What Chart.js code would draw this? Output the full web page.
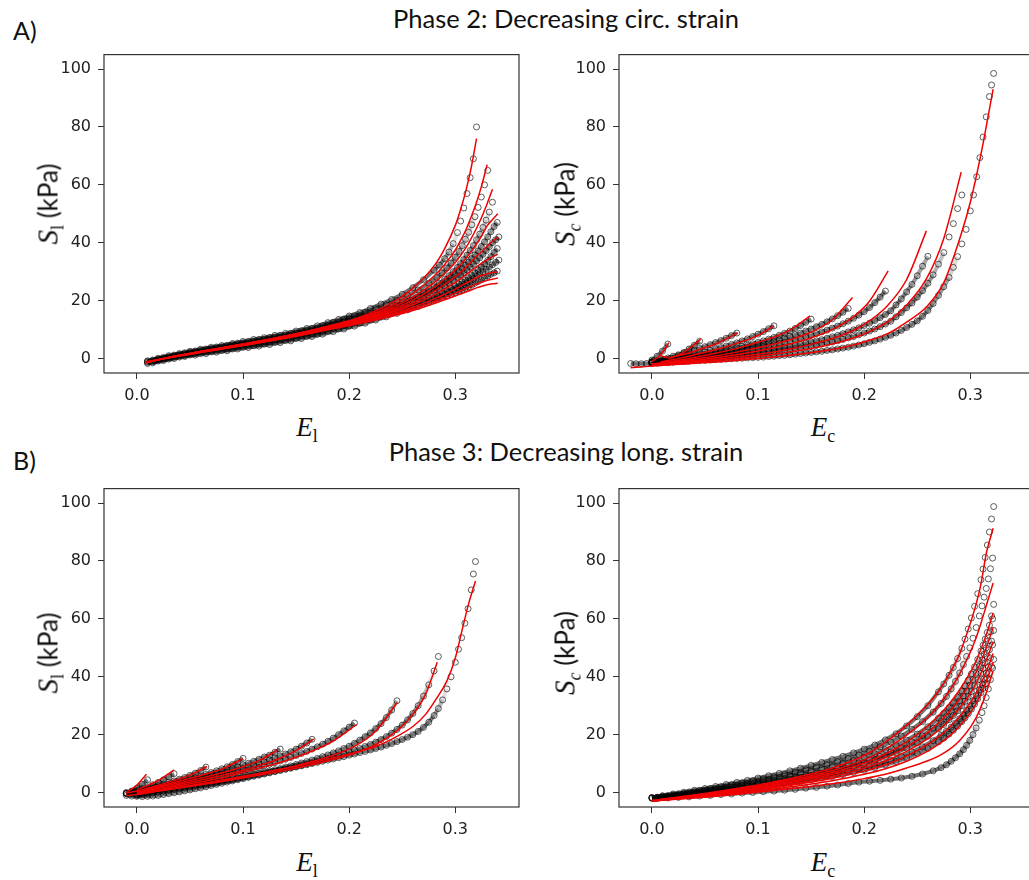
<!DOCTYPE html>
<html>
<head>
<meta charset="utf-8">
<title>Stress-strain fits, phase 2 and phase 3</title>
<script src="https://cdn.jsdelivr.net/npm/chart.js@4.4.1/dist/chart.umd.min.js"></script>
<style>
  html, body { margin: 0; padding: 0; background: #fff; }
  body { position: relative; width: 1029px; height: 880px; overflow: hidden; font-family: Lato, "Open Sans", sans-serif; color: #111; }
  canvas { position: absolute; }
  .t { position: absolute; white-space: nowrap; line-height: 1; }
  .panel { font-size: 25px; left: 13px; }
  .head { font-size: 25.5px; transform: translateX(-50%); }
  .xl { font-family: "Liberation Serif", serif; font-size: 27px; transform: translateX(-50%); }
  .xl sub { font-size: 18px; font-style: normal; vertical-align: -6px; line-height: 0; }
  .yl { font-size: 26px; transform: translate(-50%, -50%) rotate(-90deg); }
  .yl i { font-family: "Liberation Serif", serif; font-size: 29px; }
  .yl sub { font-family: "Liberation Serif", serif; font-size: 18px; vertical-align: -6px; line-height: 0; }
</style>
</head>
<body>
<canvas id="p2l" width="484" height="372" style="left:40px;top:38px"></canvas>
<canvas id="p2c" width="484" height="372" style="left:555px;top:38px"></canvas>
<canvas id="p3l" width="484" height="372" style="left:40px;top:472px"></canvas>
<canvas id="p3c" width="484" height="372" style="left:555px;top:472px"></canvas>

<div class="t panel" style="top:18px">A)</div>
<div class="t head" style="left:566px;top:6px">Phase 2: Decreasing circ. strain</div>
<div class="t panel" style="top:448px">B)</div>
<div class="t head" style="left:566px;top:439px">Phase 3: Decreasing long. strain</div>

<div class="t xl" style="left:307px;top:414px"><i>E</i><sub>l</sub></div>
<div class="t xl" style="left:823px;top:414px"><i>E</i><sub>c</sub></div>
<div class="t xl" style="left:307px;top:849px"><i>E</i><sub>l</sub></div>
<div class="t xl" style="left:823px;top:849px"><i>E</i><sub>c</sub></div>

<div class="t yl" style="left:48px;top:204px"><i>S</i><sub>l</sub> (kPa)</div>
<div class="t yl" style="left:565px;top:204px"><i>S</i><sub><i style="font-size:18px">c</i></sub> (kPa)</div>
<div class="t yl" style="left:48px;top:653px"><i>S</i><sub>l</sub> (kPa)</div>
<div class="t yl" style="left:565px;top:653px"><i>S</i><sub><i style="font-size:18px">c</i></sub> (kPa)</div>

<script>
// axes shared by all four panels
const xTicks = [0.0, 0.1, 0.2, 0.3];
const yTicks = [0, 20, 40, 60, 80, 100];
const xRange = [-0.031, 0.36];
const yRange = [-5, 105];

// ---- A) Phase 2, S_l vs E_l ----
const p2lGridA = [0.01,0.02,0.03,0.04,0.05,0.06,0.07,0.08,0.09,0.10,0.11,0.12,0.13,0.14,0.15,0.16,0.17,0.18,0.19,0.20,0.21,0.22,0.23,0.24,0.25,0.26,0.27,0.28,
  0.285,0.29,0.294,0.298,0.302,0.305,0.308,0.311,0.314,0.317,0.320,0.323,0.326,0.329,0.332,0.335,0.338,0.341];
const p2lGridB = [0.015,0.025,0.035,0.045,0.055,0.065,0.075,0.085,0.095,0.105,0.115,0.125,0.135,0.145,0.155,0.165,0.175,0.185,0.195,0.205,0.215,0.225,0.235,0.245,0.255,0.265,0.275,
  0.2825,0.2875,0.292,0.296,0.300,0.3035,0.3065,0.3095,0.3125,0.3155,0.3185,0.3215,0.3245,0.3275,0.3305,0.3335,0.3365,0.3395];
const p2lDotsA = [
  [-0.8,0.1,1.0,1.7,2.5,3.2,3.9,4.5,5.2,5.9,6.6,7.2,8.0,8.7,9.5,10.4,11.3,12.4,13.5,14.7,15.9,17.3,18.8,20.4,22.2,24.5,27.2,30.5,
   32.3,34.5,36.8,39.7,43.5,47.5,52.0,57.0,62.5,69.0,80.0],
  [-1.0,-0.2,0.6,1.4,2.1,2.8,3.4,4.0,4.7,5.3,5.9,6.6,7.3,8.0,8.8,9.6,10.4,11.5,12.5,13.7,14.7,15.7,16.8,18.0,19.4,21.0,22.8,24.8,
   26.0,27.4,28.6,30.0,31.5,32.8,34.2,35.7,37.3,39.0,41.0,43.0,45.3,47.8,50.6,54.0],
  [-1.3,-0.5,0.3,1.0,1.7,2.3,2.9,3.5,4.1,4.7,5.3,5.9,6.6,7.3,8.0,8.8,9.6,10.6,11.6,12.7,13.7,14.8,15.9,17.1,18.4,19.8,21.4,23.2,
   24.1,25.1,26.0,27.0,28.0,28.8,29.7,30.6,31.6,32.6,33.7,34.8,36.0,37.3,38.6,40.0,41.0,42.0],
  [-1.7,-0.9,-0.2,0.5,1.2,1.7,2.3,2.8,3.3,3.9,4.4,5.0,5.6,6.3,7.0,7.7,8.4,9.4,10.3,11.3,12.3,13.4,14.5,15.7,16.9,18.1,19.4,20.8,
   21.5,22.3,23.0,23.7,24.4,25.0,25.6,26.2,26.9,27.6,28.4,29.2,30.0,30.8,31.6,32.4,33.2,34.0]
];
const p2lDotsB = [
  [-0.5,0.4,1.2,2.0,2.6,3.3,4.0,4.6,5.3,5.9,6.6,7.3,8.0,8.7,9.6,10.4,11.4,12.5,13.6,14.7,15.9,17.2,18.6,20.1,21.8,23.7,26.0,
   28.0,29.6,31.3,33.0,35.0,37.0,39.0,41.2,43.6,46.2,49.0,52.2,55.8,60.0,65.0],
  [-0.8,0.0,0.9,1.6,2.2,2.8,3.5,4.1,4.7,5.3,5.9,6.6,7.3,8.0,8.8,9.6,10.5,11.6,12.6,13.6,14.7,15.8,17.0,18.3,19.7,21.3,23.1,
   24.6,25.7,26.8,27.9,29.0,30.1,31.1,32.2,33.3,34.5,35.8,37.2,38.7,40.3,42.0,43.8,45.6,47.0],
  [-1.1,-0.3,0.5,1.1,1.7,2.3,2.9,3.4,4.0,4.6,5.1,5.7,6.4,7.1,7.9,8.6,9.5,10.5,11.4,12.5,13.5,14.6,15.7,16.9,18.1,19.4,20.8,
   21.9,22.7,23.5,24.2,25.0,25.7,26.4,27.1,27.9,28.7,29.6,30.6,31.6,32.7,33.9,35.2,36.6,38.0],
  [-1.5,-0.7,0.0,0.7,1.2,1.7,2.2,2.7,3.3,3.8,4.3,4.8,5.5,6.1,6.9,7.6,8.4,9.3,10.2,11.2,12.2,13.3,14.4,15.6,16.8,18.0,19.3,
   20.3,21.0,21.6,22.2,22.8,23.3,23.8,24.3,24.8,25.4,26.0,26.6,27.2,27.8,28.5,29.1,29.6,30.2]
];
const p2lFitGrid = [0.008,0.03,0.06,0.10,0.14,0.18,0.21,0.24,0.26,0.28,0.29,0.30,0.305,0.31,0.315,0.32,0.325,0.33,0.335,0.34];
const p2lFits = [
  [-1.5,0.4,2.4,5.0,7.8,11.2,14.3,19.2,24.3,32.0,38.0,46.0,51.5,58.0,66.0,76.0],
  [-1.5,0.4,2.4,5.0,7.8,11.1,14.0,18.3,22.5,28.5,32.5,37.5,40.8,44.5,49.0,54.0,60.0,67.0],
  [-1.5,0.4,2.4,4.9,7.7,11.0,13.8,17.6,21.2,26.2,29.4,33.2,35.6,38.3,41.5,45.0,49.0,53.5,58.5],
  [-1.4,0.4,2.4,4.9,7.6,10.8,13.5,17.0,20.2,24.6,27.4,30.6,32.5,34.6,37.0,39.6,42.5,45.8,48.0,50.0],
  [-1.4,0.4,2.3,4.8,7.5,10.6,13.2,16.4,19.3,23.2,25.6,28.3,29.8,31.5,33.4,35.4,37.0,38.8,40.5,42.0],
  [-1.4,0.3,2.3,4.7,7.4,10.5,12.9,16.0,18.6,22.0,24.0,26.3,27.6,28.9,30.3,31.7,33.0,34.2,35.2,36.0],
  [-1.3,0.3,2.2,4.6,7.2,10.3,12.6,15.4,17.7,20.6,22.2,24.0,25.0,26.0,27.0,28.0,28.7,29.3,29.7,30.0],
  [-1.3,0.3,2.2,4.6,7.1,10.1,12.4,15.0,17.1,19.7,21.1,22.6,23.4,24.2,25.0,25.8,26.4,27.0,27.4,27.8],
  [-1.2,0.3,2.1,4.5,7.0,9.9,12.1,14.6,16.6,19.0,20.3,21.6,22.3,23.0,23.7,24.4,25.0,25.5,25.8,26.0]
];

// ---- A) Phase 2, S_c vs E_c ----
const p2cGrid = [-0.02,-0.015,-0.01,-0.005,0,0.005,0.01,0.015,0.02,0.025,0.03,0.035,0.04,0.045,0.05,0.055,0.06,0.065,0.07,0.075,
  0.08,0.085,0.09,0.095,0.1,0.105,0.11,0.115,0.12,0.125,0.13,0.135,0.14,0.145,0.15,0.155,0.16,0.165,0.17,0.175,
  0.18,0.185,0.19,0.195,0.2,0.205,0.21,0.215,0.22,0.225,0.23,0.235,0.24,0.245,0.25,0.255,0.26,0.265,0.27,0.275,0.28,
  0.284,0.288,0.292,0.296,0.3,0.303,0.306,0.309,0.312,0.315,0.318,0.32,0.322];
const p2cDots = [
  [null,null,null,null,-0.5,0.8,2.6,5.0],
  [null,null,null,null,-1.2,-1.0,-0.7,-0.4,0.0,1.0,2.1,3.3,4.6,6.0],
  [null,null,null,null,-1.0,-0.7,-0.3,0.2,0.8,1.3,1.8,2.3,2.9,3.5,4.1,4.8,5.5,6.2,7.0,7.9,8.8],
  [null,null,null,null,-1.2,-1.0,-0.7,-0.4,-0.1,0.3,0.7,1.1,1.5,1.9,2.3,2.8,3.3,3.8,4.3,4.9,5.4,6.1,6.8,7.6,8.4,9.3,10.3,11.3],
  [null,null,null,null,-1.3,-1.1,-0.9,-0.7,-0.4,-0.1,0.2,0.5,0.8,1.1,1.4,1.8,2.1,2.5,2.9,3.3,3.7,4.1,4.6,5.1,5.6,6.1,6.7,7.3,8.0,8.7,9.5,10.4,11.4,12.5,13.6],
  [null,null,null,null,-1.4,-1.2,-1.0,-0.8,-0.6,-0.4,-0.1,0.1,0.4,0.7,1.0,1.3,1.6,1.9,2.3,2.6,3.0,3.4,3.8,4.2,4.6,5.0,5.5,6.0,6.5,7.0,7.6,8.2,8.8,9.5,10.2,11.0,11.8,12.7,13.7,14.8,16.0,17.3],
  [null,null,null,null,-1.4,-1.3,-1.1,-0.9,-0.7,-0.5,-0.3,-0.1,0.1,0.4,0.6,0.9,1.1,1.4,1.7,2.0,2.3,2.6,3.0,3.3,3.7,4.0,4.4,4.8,5.2,5.6,6.1,6.5,7.0,7.5,8.0,8.6,9.2,9.8,10.5,11.2,12.0,12.9,13.9,15.0,16.2,17.6,19.3,21.2,23.3],
  [null,null,null,null,-1.5,-1.4,-1.3,-1.2,-1.0,-0.9,-0.7,-0.5,-0.3,-0.1,0.1,0.3,0.5,0.7,0.9,1.1,1.4,1.6,1.9,2.1,2.4,2.7,3.0,3.3,3.6,3.9,4.2,4.6,4.9,5.3,5.7,6.1,6.5,7.0,7.5,8.0,8.6,9.2,9.9,10.6,11.4,12.2,13.1,14.1,15.2,16.5,18.5,20.6,23.0,25.6,28.6,31.9,35.3],
  [null,null,null,null,-1.6,-1.5,-1.4,-1.3,-1.2,-1.0,-0.9,-0.7,-0.6,-0.4,-0.2,0.0,0.1,0.3,0.5,0.7,0.9,1.1,1.3,1.5,1.7,1.9,2.1,2.4,2.6,2.9,3.1,3.4,3.7,4.0,4.3,4.6,5.0,5.3,5.7,6.1,6.6,7.1,7.6,8.2,8.8,9.5,10.2,11.0,11.9,12.9,14.4,15.9,17.5,19.2,21.2,23.4,26.0,28.9,32.6,36.6,42.0,46.6,51.8,56.5],
  [-1.7,-1.8,-1.8,-1.7,-1.6,-1.5,-1.4,-1.3,-1.2,-1.1,-1.0,-0.9,-0.8,-0.7,-0.6,-0.5,-0.4,-0.3,-0.2,-0.1,0.0,0.1,0.2,0.3,0.4,0.5,0.7,0.8,1.0,1.1,1.3,1.5,1.7,1.9,2.1,2.3,2.5,2.8,3.0,3.3,3.6,3.9,4.3,4.7,5.1,5.6,6.1,6.7,7.3,8.0,8.8,9.7,10.7,11.8,13.0,14.6,16.6,19.0,21.8,24.8,28.0,
   31.5,35.2,39.6,44.6,51.0,56.5,62.8,69.4,76.5,83.5,90.5,94.5,98.5]
];
const p2cFitGrid = [-0.02,-0.01,0.0,0.008,0.016,0.025,0.035,0.046,0.06,0.081,0.10,0.115,0.13,0.149,0.17,0.189,0.205,0.2226,0.24,0.2586,0.275,0.2914,0.30,0.31,0.3215];
const p2cFits = [
  [null,null,-1.0,1.2,5.5],
  [null,null,null,1.0,0.2,1.2,3.4,6.7],
  [null,null,null,null,0.3,1.0,1.9,3.3,5.0,8.9],
  [null,null,null,-1.2,-0.6,0.0,0.8,1.8,3.0,5.4,8.0,11.3],
  [null,null,-1.9,-1.5,-1.1,-0.6,0.0,0.8,1.8,3.6,5.6,7.4,9.8,14.7],
  [null,null,-2.0,-1.7,-1.4,-1.0,-0.5,0.1,0.9,2.3,3.7,5.0,6.5,9.0,13.4,21.1],
  [null,null,-2.1,-1.9,-1.6,-1.3,-0.9,-0.4,0.3,1.4,2.6,3.7,5.0,7.0,10.0,14.2,19.8,30.3],
  [null,null,-2.2,-2.0,-1.8,-1.5,-1.2,-0.8,-0.3,0.6,1.5,2.3,3.3,4.8,6.9,9.6,13.0,18.5,27.3,44.1],
  [null,null,-2.3,-2.1,-1.9,-1.7,-1.4,-1.1,-0.7,0.0,0.8,1.5,2.3,3.4,5.0,7.0,9.3,12.8,18.5,27.5,41.5,64.4],
  [-3.2,-2.9,-2.6,-2.4,-2.2,-2.0,-1.8,-1.5,-1.2,-0.6,0.0,0.5,1.1,2.0,3.1,4.6,6.3,8.7,12.6,17.8,26.2,43.0,54.0,70.5,93.1]
];

// ---- B) Phase 3, S_l vs E_l ----
const p3lGrid = [-0.015,-0.01,-0.005,0,0.005,0.01,0.015,0.02,0.025,0.03,0.035,0.04,0.045,0.05,0.055,0.06,0.065,0.07,0.075,
  0.08,0.085,0.09,0.095,0.1,0.105,0.11,0.115,0.12,0.125,0.13,0.135,0.14,0.145,0.15,0.155,0.16,0.165,0.17,0.175,
  0.18,0.185,0.19,0.195,0.2,0.205,0.21,0.215,0.22,0.225,0.23,0.235,0.24,0.245,0.25,0.255,0.26,0.265,0.27,0.275,0.28,
  0.284,0.288,0.292,0.296,0.3,0.303,0.306,0.309,0.312,0.315,0.317,0.319];
const p3lDots = [
  [null,-0.3,0.5,1.5,2.8,4.4],
  [null,0.0,0.3,0.8,1.4,2.0,2.7,3.5,4.4,5.4,6.5],
  [null,-0.2,0.1,0.4,0.9,1.4,1.9,2.4,2.9,3.4,4.0,4.6,5.2,5.9,6.7,7.6,8.8],
  [null,-0.4,-0.1,0.2,0.6,1.0,1.4,1.8,2.3,2.7,3.2,3.7,4.2,4.7,5.2,5.7,6.3,6.9,7.5,8.2,8.9,9.7,10.7,11.8],
  [null,null,-0.3,0.0,0.4,0.8,1.2,1.6,2.0,2.4,2.8,3.2,3.7,4.1,4.6,5.1,5.6,6.1,6.6,7.1,7.7,8.3,8.9,9.5,10.1,10.8,11.5,12.3,12.9,13.9,15.0],
  [null,null,-0.5,-0.2,0.2,0.5,0.9,1.3,1.7,2.0,2.4,2.8,3.2,3.6,4.0,4.5,4.9,5.4,5.8,6.3,6.8,7.3,7.8,8.3,8.9,9.4,10.0,10.6,11.2,11.9,12.6,13.3,14.1,15.0,16.0,17.1,18.4],
  [null,null,null,-0.5,-0.2,0.2,0.5,0.9,1.2,1.6,1.9,2.3,2.6,3.0,3.4,3.8,4.2,4.6,5.0,5.4,5.9,6.3,6.8,7.2,7.7,8.2,8.7,9.2,9.8,10.3,10.9,11.5,12.1,12.8,13.5,14.2,15.0,15.8,16.7,17.7,18.8,20.0,21.3,22.6,24.0],
  [null,null,null,-0.8,-0.5,-0.2,0.1,0.4,0.7,1.0,1.3,1.6,1.9,2.2,2.5,2.8,3.1,3.4,3.7,4.1,4.4,4.8,5.1,5.5,5.9,6.3,6.7,7.1,7.5,7.9,8.3,8.8,9.2,9.7,10.2,10.7,11.2,11.8,12.4,13.0,13.7,14.4,15.2,16.0,17.0,18.1,19.3,20.6,22.1,23.8,25.9,28.5,31.7],
  [null,null,null,-1.0,-0.7,-0.5,-0.2,0.1,0.4,0.7,1.0,1.3,1.6,1.9,2.2,2.5,2.8,3.1,3.4,3.8,4.1,4.4,4.8,5.1,5.5,5.9,6.2,6.6,7.0,7.4,7.8,8.2,8.6,9.0,9.4,9.9,10.3,10.8,11.3,11.8,12.3,12.9,13.4,14.0,14.6,15.2,15.9,16.6,17.4,18.3,19.3,20.5,21.8,23.3,25.1,27.3,30.0,33.3,37.2,42.0,47.0],
  [null,-1.0,-1.2,-1.3,-1.4,-1.3,-1.2,-1.0,-0.7,-0.4,-0.1,0.2,0.6,0.9,1.3,1.6,2.0,2.4,2.8,3.2,3.6,4.0,4.4,4.8,5.2,5.6,6.0,6.4,6.8,7.2,7.6,8.0,8.4,8.8,9.2,9.6,10.0,10.4,10.8,11.2,11.6,12.0,12.4,12.9,13.3,13.8,14.2,14.7,15.2,15.7,16.3,16.9,17.6,18.3,19.1,20.0,21.1,22.5,24.3,26.6,
   29.0,32.0,35.8,40.0,45.0,49.5,53.5,58.5,63.5,70.0,75.5,79.8]
];
const p3lFitGrid = [-0.01,0.0,0.009,0.02,0.035,0.05,0.066,0.08,0.10,0.115,0.133,0.15,0.1667,0.185,0.207,0.225,0.245,0.26,0.272,0.283,0.292,0.30,0.306,0.312,0.319];
const p3lFits = [
  [-1.0,-0.7,-0.2,0.5,1.4,2.4,3.4,4.3,5.6,6.6,7.8,9.0,10.4,12.0,14.0,15.9,19.4,22.8,27.0,32.9,38.5,46.5,55.5,64.5,73.1],
  [null,-0.6,-0.1,0.5,1.3,2.1,3.0,3.8,5.0,6.0,7.2,8.4,9.8,11.4,13.8,16.6,21.3,27.0,34.0,45.0],
  [null,-0.5,0.0,0.6,1.5,2.3,3.3,4.1,5.4,6.5,7.9,9.3,10.9,12.9,16.4,21.2,31.0],
  [null,-0.3,0.3,1.0,2.0,3.0,4.1,5.1,7.0,8.4,10.2,12.2,14.6,17.8,23.5],
  [null,-0.1,0.6,1.4,2.5,3.6,4.8,5.9,7.7,9.3,11.6,14.5,18.5],
  [null,0.1,0.9,1.8,3.0,4.2,5.5,6.8,8.9,11.0,14.8],
  [null,0.3,1.1,2.1,3.5,4.9,6.5,8.1,11.7],
  [-0.2,0.5,1.4,2.5,4.2,6.0,9.0],
  [null,1.0,2.3,4.1,7.8],
  [0.0,2.6,6.3]
];

// ---- B) Phase 3, S_c vs E_c ----
const p3cGridA = [0,0.01,0.02,0.03,0.04,0.05,0.06,0.07,0.08,0.09,0.1,0.11,0.12,0.13,0.14,0.15,0.16,0.17,0.18,0.19,0.2,0.21,0.22,0.23,0.24,0.25,0.26,0.27,
  0.275,0.28,0.284,0.288,0.292,0.295,0.298,0.301,0.304,0.307,0.31,0.312,0.314,0.316,0.318,0.32,0.322];
const p3cGridB = [0.005,0.015,0.025,0.035,0.045,0.055,0.065,0.075,0.085,0.095,0.105,0.115,0.125,0.135,0.145,0.155,0.165,0.175,0.185,0.195,0.205,0.215,0.225,0.235,0.245,0.255,0.265,
  0.2725,0.2775,0.282,0.286,0.29,0.2935,0.2965,0.2995,0.3025,0.3055,0.3085,0.311,0.313,0.315,0.317,0.319,0.321];
const p3cDotsA = [
  [-1.7,-1.1,-0.5,0.1,0.8,1.4,2.1,2.8,3.5,4.2,5.0,5.8,6.6,7.5,8.4,9.4,10.4,11.4,12.5,13.7,15.0,16.4,18.2,20.3,23.0,26.2,30.0,34.8,
   37.5,40.5,43.2,46.3,49.8,53.0,56.5,60.3,64.3,68.7,73.5,77.2,81.2,85.5,90.0,94.5,98.8],
  [-1.8,-1.3,-0.8,-0.3,0.2,0.8,1.3,1.9,2.5,3.1,3.7,4.4,5.1,5.8,6.6,7.4,8.2,9.1,10.1,11.1,12.2,13.4,14.8,16.3,18.1,20.2,22.7,25.7,
   27.4,29.3,31.0,32.9,35.0,36.8,38.8,41.0,43.4,46.0,48.9,50.9,53.0,55.3,57.8,61.0,65.0],
  [-1.9,-1.5,-1.1,-0.6,-0.2,0.3,0.8,1.3,1.8,2.3,2.9,3.4,4.0,4.6,5.2,5.9,6.6,7.4,8.2,9.1,10.1,11.2,12.4,13.8,15.4,17.2,19.4,22.0,
   23.5,25.1,26.6,28.2,30.0,31.5,33.1,34.9,36.8,38.9,41.2,42.9,44.8,46.9,49.3,52.3,56.0],
  [-2.0,-1.7,-1.3,-1.0,-0.6,-0.3,0.1,0.5,0.9,1.3,1.7,2.2,2.7,3.2,3.7,4.3,4.9,5.5,6.2,6.9,7.7,8.6,9.6,10.7,12.0,13.5,15.3,17.5,
   18.8,20.2,21.5,22.9,24.5,25.8,27.2,28.8,30.5,32.4,34.5,36.0,37.6,39.4,41.3,43.5,46.0]
];
const p3cDotsB = [
  [-1.6,-1.0,-0.4,0.2,0.8,1.4,2.0,2.7,3.3,4.0,4.7,5.4,6.2,7.0,7.9,8.8,9.7,10.7,11.8,13.0,14.3,15.8,17.5,19.5,21.8,24.5,27.8,
   30.8,33.2,35.8,38.4,41.3,44.2,47.0,50.0,53.3,57.0,61.0,64.5,67.5,70.5,73.8,77.3,81.0],
  [-1.7,-1.3,-0.8,-0.3,0.2,0.7,1.2,1.7,2.3,2.8,3.4,4.0,4.6,5.3,6.0,6.7,7.5,8.3,9.2,10.2,11.3,12.5,13.9,15.5,17.4,19.6,22.2,
   24.5,26.2,28.0,29.7,31.6,33.4,35.1,37.0,39.0,41.2,43.6,45.8,47.8,50.0,52.4,55.5,60.0],
  [-1.8,-1.5,-1.1,-0.7,-0.3,0.1,0.5,1.0,1.4,1.9,2.4,2.9,3.5,4.0,4.6,5.2,5.9,6.6,7.4,8.2,9.1,10.1,11.2,12.5,14.0,15.8,17.9,
   19.8,21.2,22.6,24.0,25.5,27.0,28.4,30.0,31.7,33.5,35.5,37.4,39.2,41.2,43.5,46.5,51.0],
  [-2.1,-1.9,-1.7,-1.5,-1.2,-1.0,-0.7,-0.5,-0.2,0.0,0.3,0.5,0.8,1.1,1.5,1.8,2.2,2.6,3.1,3.6,3.9,4.2,4.6,5.0,5.6,6.4,7.5,
   8.6,9.6,10.8,12.0,13.4,14.8,16.3,18.0,20.0,22.3,25.0,27.6,30.0,32.8,35.8,39.0,43.0]
];
const p3cFitGrid = [0.0,0.02,0.05,0.08,0.11,0.14,0.17,0.20,0.22,0.24,0.26,0.27,0.28,0.29,0.30,0.305,0.31,0.315,0.3215];
const p3cFits = [
  [-2.8,-1.8,-0.3,1.4,3.3,5.6,8.5,12.8,17.4,23.3,30.5,35.0,40.8,48.0,58.5,64.5,72.0,82.5,91.3],
  [-2.8,-1.9,-0.5,1.1,2.9,5.0,7.6,11.3,15.0,19.8,26.0,30.0,35.0,41.0,48.5,53.0,58.5,64.5,72.4],
  [-2.8,-2.0,-0.7,0.8,2.5,4.5,6.9,10.2,13.3,17.5,23.0,26.5,30.6,35.5,41.5,45.0,49.5,54.5,62.0],
  [-2.8,-2.0,-0.8,0.6,2.2,4.1,6.3,9.3,12.1,15.8,20.8,24.0,27.8,32.3,37.8,41.2,45.2,50.0,57.0],
  [-2.9,-2.1,-1.0,0.3,1.8,3.5,5.6,8.4,10.9,14.2,18.6,21.5,25.0,29.2,34.3,37.4,41.2,45.6,52.0],
  [-2.9,-2.2,-1.2,0.0,1.4,3.0,4.9,7.4,9.6,12.6,16.6,19.2,22.4,26.3,31.0,34.0,37.6,41.8,48.0],
  [-2.9,-2.3,-1.4,-0.3,1.0,2.4,4.1,6.3,8.2,10.8,14.3,16.6,19.4,23.0,27.5,30.4,34.0,38.3,45.0],
  [-2.9,-2.4,-1.6,-0.6,0.5,1.7,3.0,4.8,6.3,8.5,11.0,12.6,14.8,18.0,22.5,25.5,29.5,34.5,42.0]
];

Chart.defaults.font.family = "'DejaVu Sans', sans-serif";
Chart.defaults.color = '#222';

function points(grid, ys) {
  return grid.map((x, i) => ({ x: x, y: ys[i] })).filter(p => p.y != null);
}

// flat runs of overlapping circles read as a dark band; on the steep ends,
// where the samples spread out, only the open circles show
function traceColor(ctx) {
  const dx = Math.abs(ctx.p1.x - ctx.p0.x) || 0.01;
  const slope = Math.abs(ctx.p1.y - ctx.p0.y) / dx;
  const a = Math.max(0, Math.min(1, (3 - slope) / 1.8)) * 0.55;
  return 'rgba(0,0,0,' + a.toFixed(3) + ')';
}

function dots(grid, rows) {
  return rows.map(ys => ({
    data: points(grid, ys),
    showLine: true,
    borderWidth: 4,
    segment: { borderColor: traceColor },
    pointRadius: 3,
    pointBorderWidth: 0.9,
    pointBorderColor: 'rgba(0,0,0,0.7)',
    pointBackgroundColor: 'rgba(0,0,0,0)',
    order: 2
  }));
}
function fits(grid, rows) {
  return rows.map(ys => ({
    data: points(grid, ys),
    showLine: true,
    pointRadius: 0,
    borderColor: 'rgb(240,0,0)',
    borderWidth: 1.5,
    cubicInterpolationMode: 'monotone',
    order: 1
  }));
}

// box round the plot area, like matplotlib spines
const frame = {
  id: 'frame',
  afterDraw(chart) {
    const a = chart.chartArea, ctx = chart.ctx;
    ctx.save();
    ctx.strokeStyle = '#333';
    ctx.lineWidth = 1.2;
    ctx.strokeRect(a.left, a.top, a.right - a.left, a.bottom - a.top);
    ctx.restore();
  }
};

function axis(min, max, ticks, fmt, fit) {
  return {
    type: 'linear', min: min, max: max,
    afterBuildTicks: ax => { ax.ticks = ticks.map(v => ({ value: v })); },
    afterFit: fit,
    grid: { drawOnChartArea: false, drawTicks: true, tickLength: 6, color: '#333', lineWidth: 1 },
    border: { display: false },
    ticks: { font: { size: 16 }, color: '#222', padding: 7, autoSkip: false, maxRotation: 0, callback: fmt }
  };
}

function panel(id, datasets) {
  new Chart(document.getElementById(id), {
    type: 'scatter',
    data: { datasets: datasets },
    options: {
      responsive: false, animation: false, events: [],
      layout: { padding: { top: 5, right: 5, left: 0, bottom: 0 } },
      plugins: { legend: { display: false }, tooltip: { enabled: false } },
      scales: {
        x: axis(xRange[0], xRange[1], xTicks, v => v.toFixed(1), ax => { ax.height = 37; }),
        y: axis(yRange[0], yRange[1], yTicks, v => String(v), ax => { ax.width = 64; })
      }
    },
    plugins: [frame]
  });
}

panel('p2l', dots(p2lGridA, p2lDotsA).concat(dots(p2lGridB, p2lDotsB), fits(p2lFitGrid, p2lFits)));
panel('p2c', dots(p2cGrid, p2cDots).concat(fits(p2cFitGrid, p2cFits)));
panel('p3l', dots(p3lGrid, p3lDots).concat(fits(p3lFitGrid, p3lFits)));
panel('p3c', dots(p3cGridA, p3cDotsA).concat(dots(p3cGridB, p3cDotsB), fits(p3cFitGrid, p3cFits)));
</script>
</body>
</html>
